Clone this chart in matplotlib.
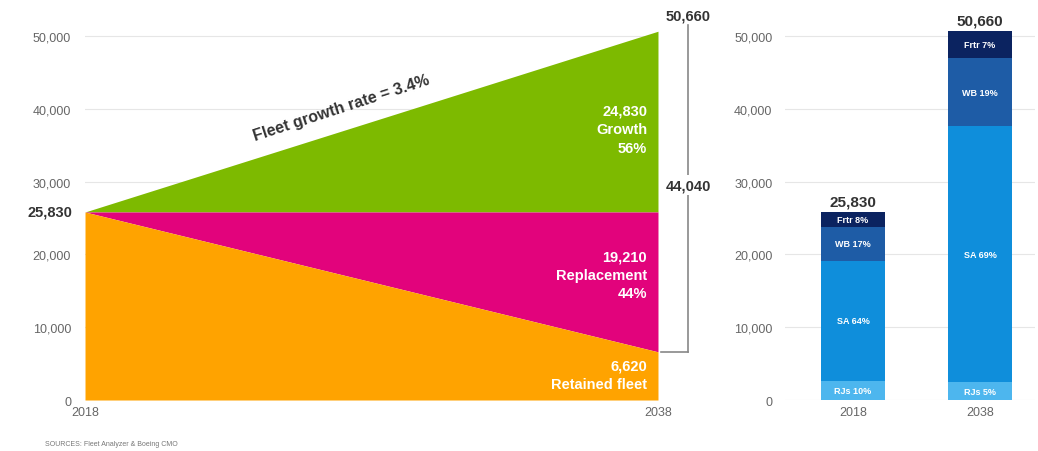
import matplotlib
matplotlib.use("Agg")
import matplotlib.pyplot as plt
from matplotlib.ticker import FuncFormatter

plt.rcParams['font.family'] = ['Liberation Sans', 'DejaVu Sans']

# fleet data (left chart)
years = [2018, 2038]
fleet_start = 25830
fleet_end = 50660
retained_end = 6620
growth = 24830
replacement = 19210
demand = 44040
growth_rate_label = "Fleet growth rate = 3.4%"

# fleet mix (right chart)
mix_years = ["2018", "2038"]
mix_totals = [25830, 50660]
mix_names = ["RJs", "SA", "WB", "Frtr"]
mix_values = {
    "RJs": [2630, 2470],
    "SA": [16530, 35170],
    "WB": [4600, 9340],
    "Frtr": [2070, 3680],
}
mix_pct = {
    "RJs": [10, 5],
    "SA": [64, 69],
    "WB": [17, 19],
    "Frtr": [8, 7],
}
mix_colors = {"RJs": "#4db6ee", "SA": "#0f8edb", "WB": "#1e5ca6", "Frtr": "#0b2360"}

green = "#7dba00"
pink = "#e2037c"
orange = "#ffa300"
grid_c = "#e6e6e6"
tick_c = "#666666"
dark = "#333333"

fig = plt.figure(figsize=(10.38, 4.52), dpi=100)
ax = fig.add_axes([0.0819, 0.1128, 0.552, 0.8858])
ax2 = fig.add_axes([0.7563, 0.1128, 0.2408, 0.8858])

fmt = FuncFormatter(lambda v, p: f"{int(v):,}")

# ---- left chart: fleet areas
x0, x1 = years
ax.fill_between(years, [fleet_start, fleet_start], [fleet_start, fleet_end], color=green, lw=0)
ax.fill_between(years, [fleet_start, retained_end], [fleet_start, fleet_start], color=pink, lw=0)
ax.fill_between(years, [0, 0], [fleet_start, retained_end], color=orange, lw=0)

ax.set_xlim(x0, x1)
ax.set_ylim(0, 55000)
ax.set_yticks(range(0, 50001, 10000))
ax.yaxis.set_major_formatter(fmt)
ax.set_xticks(years)
ax.tick_params(length=0, labelsize=9, labelcolor=tick_c)
ax.tick_params(axis="y", pad=10)
ax.tick_params(axis="x", pad=4)
for s in ax.spines.values():
    s.set_visible(False)
ax.grid(axis="y", color=grid_c, lw=0.8)
ax.set_axisbelow(True)

# start value label
ax.text(-0.022, fleet_start, f"{fleet_start:,}", transform=ax.get_yaxis_transform(),
        ha="right", va="center", fontsize=10.5, fontweight="bold", color=dark)

# growth rate label
ax.text(2026.94, 40250, growth_rate_label, rotation=18, ha="center", va="center",
        fontsize=11.5, fontweight="bold", color=dark)

# segment labels
xl = 2037.62
ax.text(xl, 37225, f"{growth:,}\nGrowth\n{growth / demand:.0%}", ha="right", va="center",
        fontsize=10.5, fontweight="bold", color="white", linespacing=1.45)
ax.text(xl, 17170, f"{replacement:,}\nReplacement\n{replacement / demand:.0%}", ha="right",
        va="center", fontsize=10.5, fontweight="bold", color="white", linespacing=1.4)
ax.text(xl, 3430, f"{retained_end:,}\nRetained fleet", ha="right", va="center",
        fontsize=10.5, fontweight="bold", color="white", linespacing=1.4)

# bracket with demand total
xb = 2039.05
ax.plot([xb, xb], [retained_end, 51500], color="#888888", lw=1.2, clip_on=False)
ax.plot([2038.1, xb], [retained_end, retained_end], color="#888888", lw=1.2, clip_on=False)
ax.text(xb, 29530, f"{demand:,}", ha="center", va="center", fontsize=10.5, fontweight="bold",
        color=dark, bbox=dict(fc="white", ec="none", pad=2), clip_on=False)
ax.text(xb, 51800, f"{fleet_end:,}", ha="center", va="bottom", fontsize=10.5,
        fontweight="bold", color=dark, clip_on=False)

# ---- right chart: stacked bars
pos = [0, 1]
bottoms = [0, 0]
for name in mix_names:
    vals = mix_values[name]
    ax2.bar(pos, vals, bottom=bottoms, width=0.5, color=mix_colors[name], lw=0)
    for i in pos:
        ax2.text(i, bottoms[i] + vals[i] / 2, f"{name} {mix_pct[name][i]}%", ha="center",
                 va="center", fontsize=6.5, fontweight="bold", color="white")
    bottoms = [b + v for b, v in zip(bottoms, vals)]

for i in pos:
    ax2.text(i, bottoms[i] + 500, f"{mix_totals[i]:,}", ha="center", va="bottom",
             fontsize=11, fontweight="bold", color=dark)

ax2.set_xlim(-0.535, 1.433)
ax2.set_ylim(0, 55000)
ax2.set_yticks(range(0, 50001, 10000))
ax2.yaxis.set_major_formatter(fmt)
ax2.set_xticks(pos)
ax2.set_xticklabels(mix_years)
ax2.tick_params(length=0, labelsize=9, labelcolor=tick_c)
ax2.tick_params(axis="y", pad=9)
ax2.tick_params(axis="x", pad=4)
for s in ax2.spines.values():
    s.set_visible(False)
ax2.grid(axis="y", color=grid_c, lw=0.8)
ax2.set_axisbelow(True)

fig.text(0.043, 0.008, "SOURCES: Fleet Analyzer & Boeing CMO", fontsize=5, color="#777777",
         ha="left", va="bottom")

fig.savefig("out.png", dpi=100)
